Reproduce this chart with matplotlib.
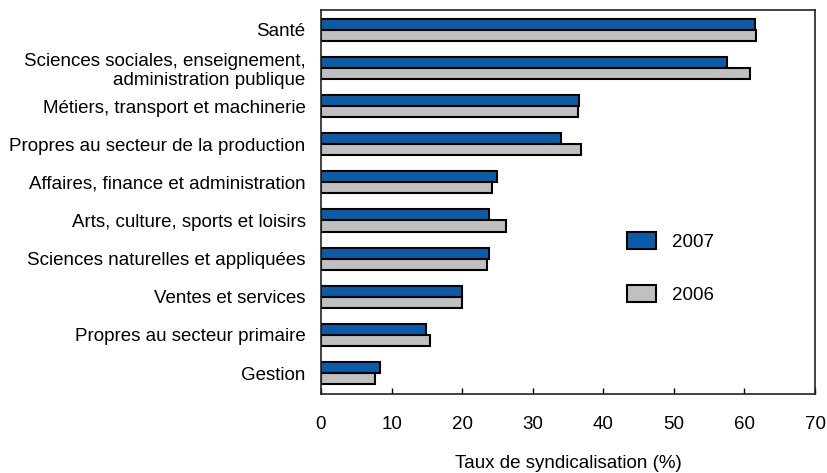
import matplotlib.pyplot as plt
import numpy as np

plt.rcParams['font.family'] = ['Liberation Sans', 'DejaVu Sans']

categories = ['Santé',
              'Sciences sociales, enseignement,\nadministration publique',
              'Métiers, transport et machinerie',
              'Propres au secteur de la production',
              'Affaires, finance et administration',
              'Arts, culture, sports et loisirs',
              'Sciences naturelles et appliquées',
              'Ventes et services',
              'Propres au secteur primaire',
              'Gestion']
values_2007 = [61.5, 57.6, 36.5, 34.0, 24.9, 23.8, 23.8, 20.0, 14.9, 8.4]
values_2006 = [61.7, 60.8, 36.4, 36.8, 24.2, 26.2, 23.5, 20.0, 15.4, 7.6]

fig = plt.figure(figsize=(8.27, 4.73), dpi=100)
ax = fig.add_axes([321 / 827, 1 - 394 / 473, (815 - 321) / 827, (394 - 10) / 473])

y = np.arange(len(categories))
h = 0.29
ax.barh(y - h / 2, values_2007, height=h, color='#0a5ca8', edgecolor='black',
        linewidth=1.5, label='2007')
ax.barh(y + h / 2, values_2006, height=h, color='#c0c0c0', edgecolor='black',
        linewidth=1.5, label='2006')

ax.set_xlim(0, 70)
ax.set_ylim(len(categories) - 0.45, -0.52)
ax.set_yticks(y)
ax.set_yticklabels(categories, fontsize=13.5, ha='right', multialignment='right',
                   linespacing=1.15)
ax.tick_params(axis='y', length=0, pad=11)
ax.set_xticks(range(0, 71, 10))
ax.tick_params(axis='x', direction='in', length=4, width=1, labelsize=13.5, pad=16)
ax.set_xlabel('Taux de syndicalisation (%)', fontsize=13.5, labelpad=16)
for s in ax.spines.values():
    s.set_linewidth(1.2)
    s.set_color('#222222')

ax.legend(loc='center left', bbox_to_anchor=(627 / 827, 1 - 268 / 473),
          bbox_transform=fig.transFigure, frameon=False, fontsize=13.5,
          handlelength=1.55, handleheight=1.0, labelspacing=1.8,
          handletextpad=0.85, borderpad=0, borderaxespad=0)

fig.savefig('out.png', dpi=100)
